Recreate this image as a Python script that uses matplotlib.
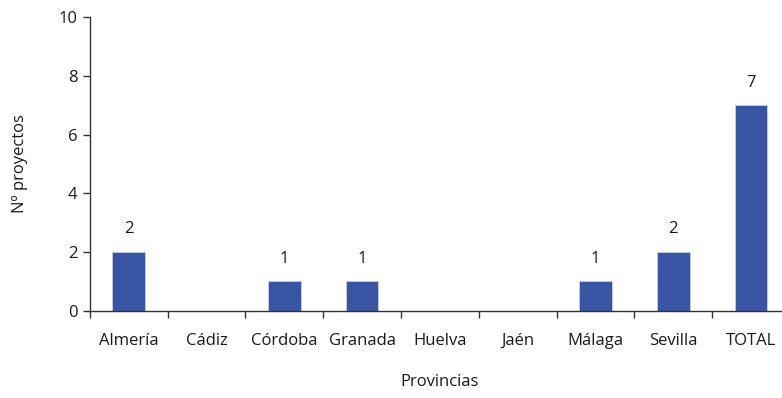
import numpy as np
import matplotlib.pyplot as plt
from matplotlib.ticker import FixedLocator

provincias = ['Almería', 'Cádiz', 'Córdoba', 'Granada', 'Huelva', 'Jaén', 'Málaga', 'Sevilla', 'TOTAL']
proyectos = [2, 0, 1, 1, 0, 0, 1, 2, 7]

plt.rcParams['font.family'] = ['Open Sans', 'DejaVu Sans']

fig = plt.figure(figsize=(7.82, 3.98), dpi=100)
# el eje x se sale un poco por la derecha, como en el original
ax = fig.add_axes([0.115, 0.219, 0.895, 0.738])

x = np.arange(len(provincias))
bars = ax.bar(x, proyectos, width=0.42, color='#3A54A4', edgecolor='#c8d0e8', linewidth=0.6)

# etiquetas encima de las barras (solo las que no son cero)
for xi, v in zip(x, proyectos):
    if v > 0:
        ax.text(xi, v + 0.5, str(v), ha='center', va='bottom', fontsize=12, color='#1a1a1a')

ax.set_xlim(-0.5, len(provincias) - 0.5)
ax.set_ylim(0, 10)
ax.set_yticks(np.arange(0, 11, 2))

ax.set_xticks(x)
ax.set_xticklabels(provincias)
ax.xaxis.set_minor_locator(FixedLocator(np.arange(-0.5, len(provincias), 1)))
ax.tick_params(axis='x', which='major', length=0, pad=16, labelsize=12, colors='#1a1a1a')
ax.tick_params(axis='x', which='minor', length=5, width=1, direction='out', color='#333333')
ax.tick_params(axis='y', length=5, width=1, labelsize=12, colors='#1a1a1a', pad=4)
ax.tick_params(axis='y', color='#333333')

ax.spines['top'].set_visible(False)
ax.spines['right'].set_visible(False)
ax.spines['left'].set_color('#333333')
ax.spines['bottom'].set_color('#333333')
ax.spines['left'].set_linewidth(1)
ax.spines['bottom'].set_linewidth(1)

ax.set_xlabel('Provincias', fontsize=12, labelpad=18, color='#1a1a1a')
ax.set_ylabel('Nº proyectos', fontsize=12, labelpad=22, color='#1a1a1a')

fig.savefig('out.png', dpi=100)
